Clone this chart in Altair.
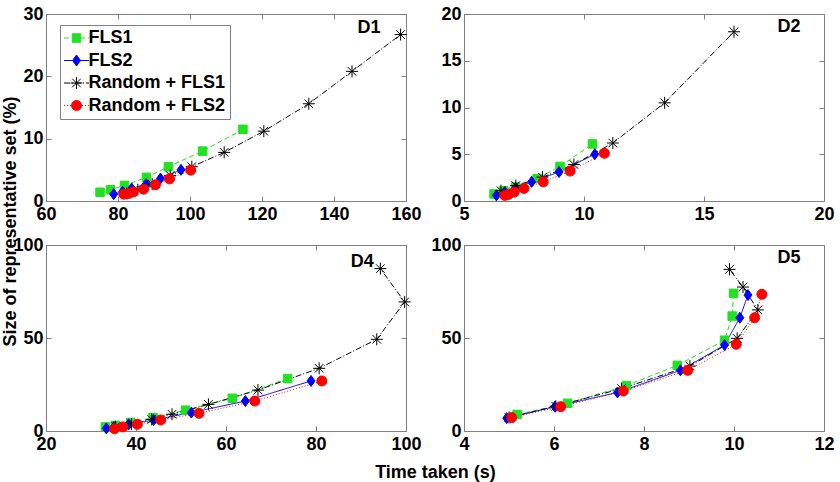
import altair as alt
import pandas as pd

FONT = "Liberation Sans"
FRAME = "#808080"

SERIES = ["FLS1", "FLS2", "Random + FLS1", "Random + FLS2"]
COLORS = ["#22e022", "#0000ff", "#000000", "#ff0000"]
DASHES = [[5, 3], [1, 0], [6, 2, 1, 2], [1, 2]]
SHAPES = [
    "M-0.85,-0.85H0.85V0.85H-0.85Z",
    "M0,-1.1L0.8,0L0,1.1L-0.8,0Z",
    "M-1.2,0H1.2M0,-1.2V1.2M-0.85,-0.85L0.85,0.85M-0.85,0.85L0.85,-0.85",
    "circle",
]

PANELS = ["D1", "D2", "D4", "D5"]
XDOM = [[60, 160], [5, 20], [20, 100], [4, 12]]
YDOM = [[0, 30], [0, 20], [0, 100], [0, 100]]
XTICKS = [[60, 80, 100, 120, 140, 160], [5, 10, 15, 20], [20, 40, 60, 80, 100], [4, 6, 8, 10, 12]]
YTICKS = [[0, 10, 20, 30], [0, 5, 10, 15, 20], [0, 50, 100], [0, 50, 100]]
LABEL_X = [149.7, 18.54, 90.3, 11.22]
LABEL_Y = [27.8, 18.6, 90.9, 93.0]

# D1
d1_fls1_x = [75.0, 77.9, 81.8, 87.9, 94.0, 103.5, 114.7]
d1_fls1_y = [1.4, 1.8, 2.5, 3.8, 5.5, 8.0, 11.5]
d1_fls2_x = [78.8, 81.3, 83.8, 87.8, 91.8, 97.5]
d1_fls2_y = [1.1, 1.5, 2.0, 2.7, 3.6, 5.0]
d1_rf1_x = [82.5, 85.5, 89.5, 94.5, 100.5, 109.5, 120.5, 133.0, 145.0, 158.5]
d1_rf1_y = [1.2, 1.8, 2.7, 4.1, 5.5, 7.8, 11.2, 15.6, 20.8, 26.7]
d1_rf2_x = [81.6, 82.9, 84.2, 87.1, 90.4, 94.3, 100.2]
d1_rf2_y = [1.1, 1.2, 1.45, 1.9, 2.6, 3.55, 4.95]

# D2
d2_fls1_x = [6.25, 6.65, 7.15, 8.05, 9.0, 10.35]
d2_fls1_y = [0.75, 1.1, 1.5, 2.4, 3.7, 6.1]
d2_fls2_x = [6.35, 6.7, 7.15, 7.82, 8.96, 10.45]
d2_fls2_y = [0.6, 0.95, 1.4, 2.05, 3.1, 5.0]
d2_rf1_x = [6.54, 7.16, 8.27, 9.58, 11.2, 13.36, 16.25]
d2_rf1_y = [1.1, 1.65, 2.55, 3.9, 6.2, 10.5, 18.1]
d2_rf2_x = [6.7, 6.85, 7.09, 7.5, 8.3, 9.42, 10.85]
d2_rf2_y = [0.6, 0.7, 0.95, 1.35, 2.05, 3.2, 5.1]

# D4
d4_fls1_x = [33.2, 35.4, 38.8, 43.8, 51.0, 61.4, 73.7]
d4_fls1_y = [2.2, 3.0, 4.6, 7.2, 11.2, 17.6, 28.2]
d4_fls2_x = [33.4, 35.1, 38.4, 43.9, 52.3, 64.3, 78.9]
d4_fls2_y = [1.4, 2.2, 3.6, 5.9, 9.9, 16.1, 26.9]
d4_rf1_x = [35.5, 39.0, 43.5, 48.0, 56.1, 67.1, 80.7, 93.5, 99.7, 94.3]
d4_rf1_y = [2.3, 3.8, 6.2, 9.0, 14.3, 22.0, 33.7, 49.3, 69.4, 87.3]
d4_rf2_x = [35.2, 37.1, 40.3, 45.5, 54.0, 66.4, 81.3]
d4_rf2_y = [1.2, 2.2, 3.6, 5.9, 9.5, 16.1, 26.9]

# D5
d5_fls1_x = [5.18, 6.3, 7.61, 8.74, 9.79, 9.96, 9.99]
d5_fls1_y = [8.9, 14.9, 24.4, 35.3, 48.8, 61.8, 74.0]
d5_fls2_x = [4.95, 6.02, 7.41, 8.81, 9.79, 10.13, 10.31]
d5_fls2_y = [6.9, 13.1, 20.7, 32.6, 46.2, 60.9, 73.1]
d5_rf1_x = [5.0, 6.04, 7.5, 9.02, 10.07, 10.53, 10.2, 9.9]
d5_rf1_y = [7.3, 13.3, 22.8, 34.9, 49.8, 65.1, 77.4, 86.9]
d5_rf2_x = [5.06, 6.15, 7.54, 8.97, 10.05, 10.46, 10.62]
d5_rf2_y = [7.2, 13.1, 21.5, 32.6, 46.6, 60.9, 73.5]

SOURCE = {
    "D1": [(d1_fls1_x, d1_fls1_y), (d1_fls2_x, d1_fls2_y), (d1_rf1_x, d1_rf1_y), (d1_rf2_x, d1_rf2_y)],
    "D2": [(d2_fls1_x, d2_fls1_y), (d2_fls2_x, d2_fls2_y), (d2_rf1_x, d2_rf1_y), (d2_rf2_x, d2_rf2_y)],
    "D4": [(d4_fls1_x, d4_fls1_y), (d4_fls2_x, d4_fls2_y), (d4_rf1_x, d4_rf1_y), (d4_rf2_x, d4_rf2_y)],
    "D5": [(d5_fls1_x, d5_fls1_y), (d5_fls2_x, d5_fls2_y), (d5_rf1_x, d5_rf1_y), (d5_rf2_x, d5_rf2_y)],
}

rows = []
for pname, lst in SOURCE.items():
    for s, (xs, ys) in zip(SERIES, lst):
        for k, (xv, yv) in enumerate(zip(xs, ys)):
            rows.append({"panel": pname, "series": s, "series_m": s, "x": xv, "y": yv, "order": k})
df = pd.DataFrame(rows)

LBL = dict(labelFont=FONT, labelFontSize=18, labelFontWeight="bold", labelColor="black")
TTL = dict(titleFont=FONT, titleFontSize=18, titleFontWeight="bold", titleColor="black")


def legend_common(**kw):
    return alt.Legend(
        orient="none", legendX=14, legendY=11, title=None,
        symbolSize=100, symbolStrokeWidth=1, symbolOffset=3.5, labelOffset=3,
        padding=4, rowPadding=4.5, labelFont=FONT, labelFontSize=18,
        labelFontWeight="bold", labelColor="black", **kw,
    )


def panel(i, height):
    name = PANELS[i]
    d = df[df.panel == name]
    xs = alt.Scale(domain=XDOM[i], nice=False, zero=False)
    ys = alt.Scale(domain=YDOM[i], nice=False, zero=False)
    show_leg = i == 0

    bkw = dict(orient="bottom", values=XTICKS[i], format="d", offset=-5, tickSize=5,
               tickColor=FRAME, domain=False, grid=False, labelPadding=4,
               labelFlush=False, labelOverlap=False, **LBL)
    if i == 2:
        bkw.update(title="Time taken (s)", titleX=389, titleY=46, titleAlign="center",
                   titleBaseline="middle", **TTL)
    else:
        bkw.update(title=None)
    bottom = alt.Axis(**bkw)

    lkw = dict(orient="left", values=YTICKS[i], format="d", offset=-5, tickSize=5,
               tickColor=FRAME, domain=False, grid=False, labelPadding=3,
               labelFlush=False, labelOverlap=False, **LBL)
    if i == 0:
        lkw.update(title="Size of representative set (%)", titleX=-41, titleY=207,
                   titleAngle=270, titleAlign="center", titleBaseline="middle", **TTL)
    else:
        lkw.update(title=None)
    left = alt.Axis(**lkw)

    top = alt.Axis(orient="top", values=XTICKS[i], offset=-5, tickSize=5, tickColor=FRAME,
                   domain=False, grid=False, labels=False, title=None)
    right = alt.Axis(orient="right", values=YTICKS[i], offset=-5, tickSize=5, tickColor=FRAME,
                     domain=False, grid=False, labels=False, title=None)

    legA = legend_common(symbolType="M-2.5,0H2.5", strokeColor=FRAME) if show_leg else None
    legB = legend_common(labelOpacity=0) if show_leg else None

    lines = alt.Chart(d).mark_line(strokeWidth=1, clip=False).encode(
        x=alt.X("x:Q", scale=xs, axis=bottom),
        y=alt.Y("y:Q", scale=ys, axis=left),
        color=alt.Color("series:N", scale=alt.Scale(domain=SERIES, range=COLORS), legend=legA),
        strokeDash=alt.StrokeDash("series:N", scale=alt.Scale(domain=SERIES, range=DASHES), legend=legA),
        order=alt.Order("order:Q"),
    )
    # marker scales use the data-driven (sorted) domain so their legend stays separate
    pts = alt.Chart(d).mark_point(size=100, opacity=1, fillOpacity=1, strokeWidth=1, clip=False).encode(
        x=alt.X("x:Q", scale=xs, axis=top),
        y=alt.Y("y:Q", scale=ys, axis=right),
        fill=alt.Fill("series_m:N", scale=alt.Scale(range=COLORS), legend=legB),
        stroke=alt.Stroke("series_m:N", scale=alt.Scale(range=COLORS), legend=legB),
        shape=alt.Shape("series_m:N", scale=alt.Scale(range=SHAPES), legend=legB),
    )
    lab = alt.Chart(pd.DataFrame({"x": [LABEL_X[i]], "y": [LABEL_Y[i]], "t": [name]})).mark_text(
        font=FONT, fontSize=18, fontWeight="bold", color="black", align="center", baseline="middle"
    ).encode(
        x=alt.X("x:Q", scale=xs, axis=None),
        y=alt.Y("y:Q", scale=ys, axis=None),
        text="t:N",
    )
    return alt.layer(lines, pts, lab).resolve_axis(x="independent", y="independent").properties(
        width=360, height=height
    )


chart = alt.concat(
    panel(0, 187), panel(1, 187), panel(2, 186), panel(3, 186),
    columns=2, spacing={"row": 44, "column": 58}, bounds="flush",
).resolve_scale(
    color="independent", fill="independent", stroke="independent",
    shape="independent", strokeDash="independent",
).configure_view(stroke=FRAME, strokeWidth=1).properties(
    padding={"left": 0, "top": 4, "right": 2, "bottom": 0}, background="white"
)

chart.save("out.html", embed_options={"renderer": "svg", "actions": False})
